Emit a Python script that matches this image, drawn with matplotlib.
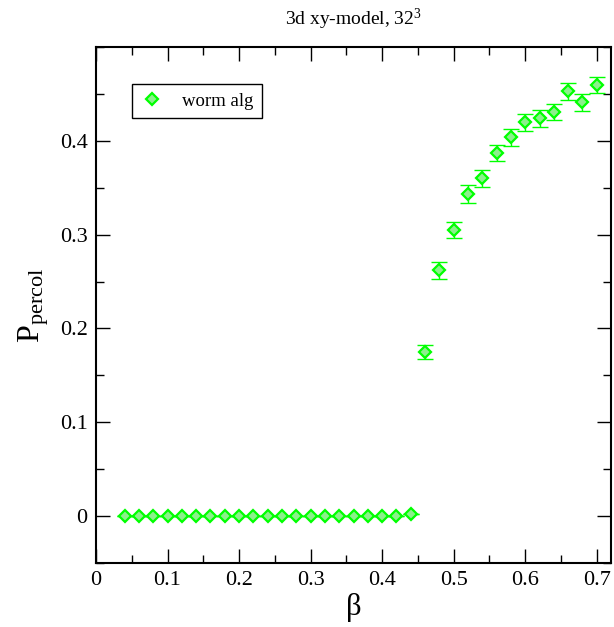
import numpy as np
import matplotlib
matplotlib.use('Agg')
import matplotlib.pyplot as plt
from matplotlib.ticker import MultipleLocator

plt.rcParams['font.family'] = ['Liberation Serif', 'DejaVu Serif']
plt.rcParams['mathtext.fontset'] = 'custom'
plt.rcParams['mathtext.rm'] = 'Liberation Serif'
plt.rcParams['mathtext.it'] = 'Liberation Serif:italic'

# worm algorithm data, 3d xy-model on 32^3 lattice
beta = [0.04, 0.06, 0.08, 0.10, 0.12, 0.14, 0.16, 0.18, 0.20, 0.22, 0.24,
        0.26, 0.28, 0.30, 0.32, 0.34, 0.36, 0.38, 0.40, 0.42, 0.44,
        0.46, 0.48, 0.50, 0.52, 0.54, 0.56, 0.58, 0.60, 0.62, 0.64,
        0.66, 0.68, 0.70]
p_percol = [0, 0, 0, 0, 0, 0, 0, 0, 0, 0, 0,
            0, 0, 0, 0, 0, 0, 0, 0, 0, 0.002,
            0.175, 0.262, 0.305, 0.343, 0.360, 0.387, 0.404, 0.420, 0.424, 0.431,
            0.453, 0.441, 0.460]
p_err = [0, 0, 0, 0, 0, 0, 0, 0, 0, 0, 0,
         0, 0, 0, 0, 0, 0, 0, 0, 0, 0,
         0.007, 0.009, 0.009, 0.0095, 0.009, 0.009, 0.009, 0.009, 0.009, 0.0085,
         0.009, 0.0087, 0.0085]

green = '#00ff00'
face = '#8cf08c'

fig = plt.figure(figsize=(6.14, 6.27), dpi=100)
ax = fig.add_axes([0.1564, 0.102, 0.8388, 0.823])

ax.errorbar(beta, p_percol, yerr=p_err, fmt='none', ecolor=green,
            elinewidth=1.0, capsize=5.5, capthick=1.0, zorder=2)
ax.plot(beta, p_percol, ls='none', marker='D', ms=6.5, mew=1.6,
        mec=green, mfc=face, label='worm alg', zorder=3)

ax.set_xlim(0, 0.72)
ax.set_ylim(-0.05, 0.5)
ax.set_xticks([0, 0.1, 0.2, 0.3, 0.4, 0.5, 0.6, 0.7])
ax.set_xticklabels(['0', '0.1', '0.2', '0.3', '0.4', '0.5', '0.6', '0.7'])
ax.set_yticks([0, 0.1, 0.2, 0.3, 0.4])
ax.set_yticklabels(['0', '0.1', '0.2', '0.3', '0.4'])
ax.xaxis.set_minor_locator(MultipleLocator(0.05))
ax.yaxis.set_minor_locator(MultipleLocator(0.05))

ax.tick_params(which='both', direction='in', top=True, right=True,
               width=1.0, labelsize=16, pad=6)
ax.tick_params(which='major', length=10)
ax.tick_params(which='minor', length=5.5)
for s in ax.spines.values():
    s.set_linewidth(1.5)

ax.set_xlabel('β', fontsize=22, labelpad=2)
ax.set_ylabel(r'$\mathrm{P}_{\mathrm{percol}}$', fontsize=23, labelpad=6)
ax.set_title(r'3d xy-model, 32$^3$', fontsize=14, pad=16)

leg = ax.legend(loc='upper left', bbox_to_anchor=(0.07, 0.928),
                borderaxespad=0, fancybox=False, edgecolor='black',
                framealpha=1, fontsize=13.5, handlelength=1.2,
                handletextpad=1.0, borderpad=0.45, numpoints=1)
leg.get_frame().set_linewidth(1.0)

fig.savefig('out.png', dpi=100)
